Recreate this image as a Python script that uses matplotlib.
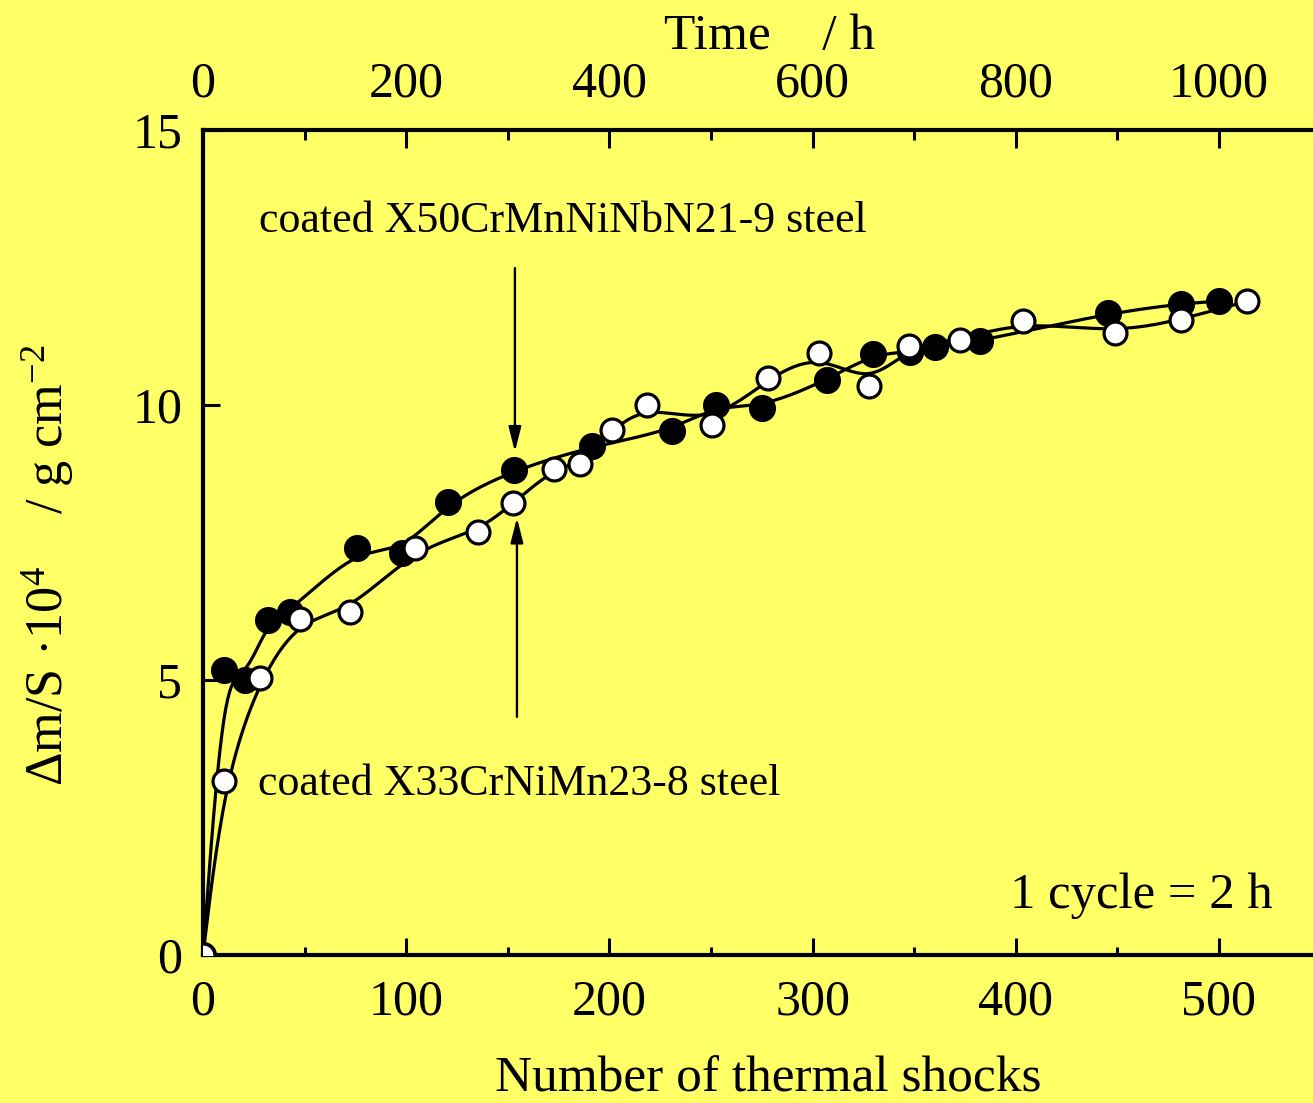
import numpy as np
import matplotlib
matplotlib.use("Agg")
import matplotlib.pyplot as plt
from matplotlib.ticker import MultipleLocator

plt.rcParams["font.family"] = ["Liberation Serif", "DejaVu Serif"]
plt.rcParams["mathtext.fontset"] = "custom"
plt.rcParams["mathtext.rm"] = "Liberation Serif"
plt.rcParams["mathtext.it"] = "Liberation Serif:italic"

# Mass gain per area (x 10^4, g cm^-2) versus number of thermal shocks
cycles_nbn = [0, 10.3, 20.7, 32, 42.8, 75.8, 98, 120.6, 153, 191.4, 230.8,
              252.5, 275, 307, 329.7, 348, 360, 382.4, 445.4, 481.3, 500]
gain_nbn = [0, 5.18, 5.0, 6.09, 6.24, 7.4, 7.31, 8.24, 8.82, 9.25, 9.53,
            10.0, 9.95, 10.45, 10.93, 10.96, 11.05, 11.16, 11.67, 11.84, 11.89]

cycles_mn = [0, 10.3, 28, 47.7, 72.3, 104.3, 135.3, 152.6, 172.7, 185.5,
             201.3, 218.5, 250.5, 278, 303, 328, 347.4, 372.5, 403.5, 448.8,
             481.3, 514]
gain_mn = [0, 3.16, 5.04, 6.11, 6.24, 7.4, 7.69, 8.22, 8.84, 8.93, 9.55,
           10.0, 9.64, 10.49, 10.95, 10.35, 11.07, 11.18, 11.53, 11.31,
           11.55, 11.89]

label_nbn = "coated X50CrMnNiNbN21-9 steel"
label_mn = "coated X33CrNiMn23-8 steel"
note = "1 cycle = 2 h"

bottom_ticks = [0, 100, 200, 300, 400, 500]
top_ticks = [0, 200, 400, 600, 800, 1000]
y_ticks = [0, 5, 10, 15]

BG = "#ffff66"


def bspline_curve(x, y, n=24):
    """Uniform cubic B-spline using the data points as control points."""
    p = np.column_stack([x, y]).astype(float)
    p = np.vstack([p[0], p[0], p, p[-1], p[-1]])
    t = np.linspace(0, 1, n)
    b0 = (1 - t) ** 3 / 6
    b1 = (3 * t ** 3 - 6 * t ** 2 + 4) / 6
    b2 = (-3 * t ** 3 + 3 * t ** 2 + 3 * t + 1) / 6
    b3 = t ** 3 / 6
    segs = []
    for i in range(len(p) - 3):
        seg = (np.outer(b0, p[i]) + np.outer(b1, p[i + 1])
               + np.outer(b2, p[i + 2]) + np.outer(b3, p[i + 3]))
        segs.append(seg)
    c = np.vstack(segs)
    return c[:, 0], c[:, 1]


W, H = 1313, 1103
fig = plt.figure(figsize=(W / 100, H / 100), dpi=100, facecolor=BG)
ax = fig.add_axes([203 / W, 1 - 955 / H, 1 - 203 / W, (955 - 130) / H])
ax.set_facecolor(BG)

xmax = (W - 203) / 2.032
ax.set_xlim(0, xmax)
ax.set_ylim(0, 15)

for xs, ys in ((cycles_nbn, gain_nbn), (cycles_mn, gain_mn)):
    cx, cy = bspline_curve(xs, ys)
    ax.plot(cx, cy, color="black", lw=2.3, zorder=2, solid_capstyle="round")

ax.plot(cycles_nbn, gain_nbn, "o", ms=18.5, mfc="black", mec="black",
        mew=1, zorder=3)
ax.plot(cycles_mn, gain_mn, "o", ms=16.5, mfc="white", mec="black",
        mew=2.3, zorder=4)

# annotations with arrows
ax.text(27.5, 13.15, label_nbn, fontsize=31.7, ha="left", va="baseline")
ax.text(27.1, 2.91, label_mn, fontsize=31.7, ha="left", va="baseline")
ax.text(526.6, 0.855, note, fontsize=36.5, ha="right", va="baseline")
arrow_kw = dict(arrowstyle="-|>,head_length=1.5,head_width=0.38",
                color="black", lw=1.7, shrinkA=0, shrinkB=0)
ax.annotate("", xy=(153.5, 9.15), xytext=(153.5, 12.49), arrowprops=arrow_kw)
ax.annotate("", xy=(154.5, 7.95), xytext=(154.5, 4.33), arrowprops=arrow_kw)

# spines and ticks
for s in ("left", "bottom", "top"):
    ax.spines[s].set_linewidth(3)
ax.spines["right"].set_visible(False)

ax.set_xticks(bottom_ticks)
ax.xaxis.set_minor_locator(MultipleLocator(50))
ax.set_yticks(y_ticks)
ax.tick_params(axis="x", which="major", direction="in", length=12, width=2.2,
               labelsize=36, pad=17, top=False)
ax.tick_params(axis="x", which="minor", direction="in", length=6, width=2.2,
               top=False)
ax.tick_params(axis="y", which="major", direction="in", length=12, width=2.2,
               labelsize=36, pad=15, right=False)

top = ax.twiny()
top.set_xlim(0, 2 * xmax)
top.set_xticks(top_ticks)
top.xaxis.set_minor_locator(MultipleLocator(100))
top.tick_params(axis="x", which="major", direction="in", length=13, width=2.2,
                labelsize=36, pad=16)
top.tick_params(axis="x", which="minor", direction="in", length=7, width=2.2)
for s in top.spines.values():
    s.set_visible(False)

fig.text(768 / W, 1 - 1102 / H, "Number of thermal shocks", fontsize=37,
         ha="center", va="bottom")
fig.text(769 / W, 1 - 49 / H, "Time    / h", fontsize=37,
         ha="center", va="baseline")
fig.text(48 / W, 1 - 565 / H,
         "\u0394m/S \u00b710$^{4}$    / g cm$^{-2}$", fontsize=37.5,
         rotation=90, ha="center", va="center")

fig.savefig("out.png", dpi=100, facecolor=BG)
